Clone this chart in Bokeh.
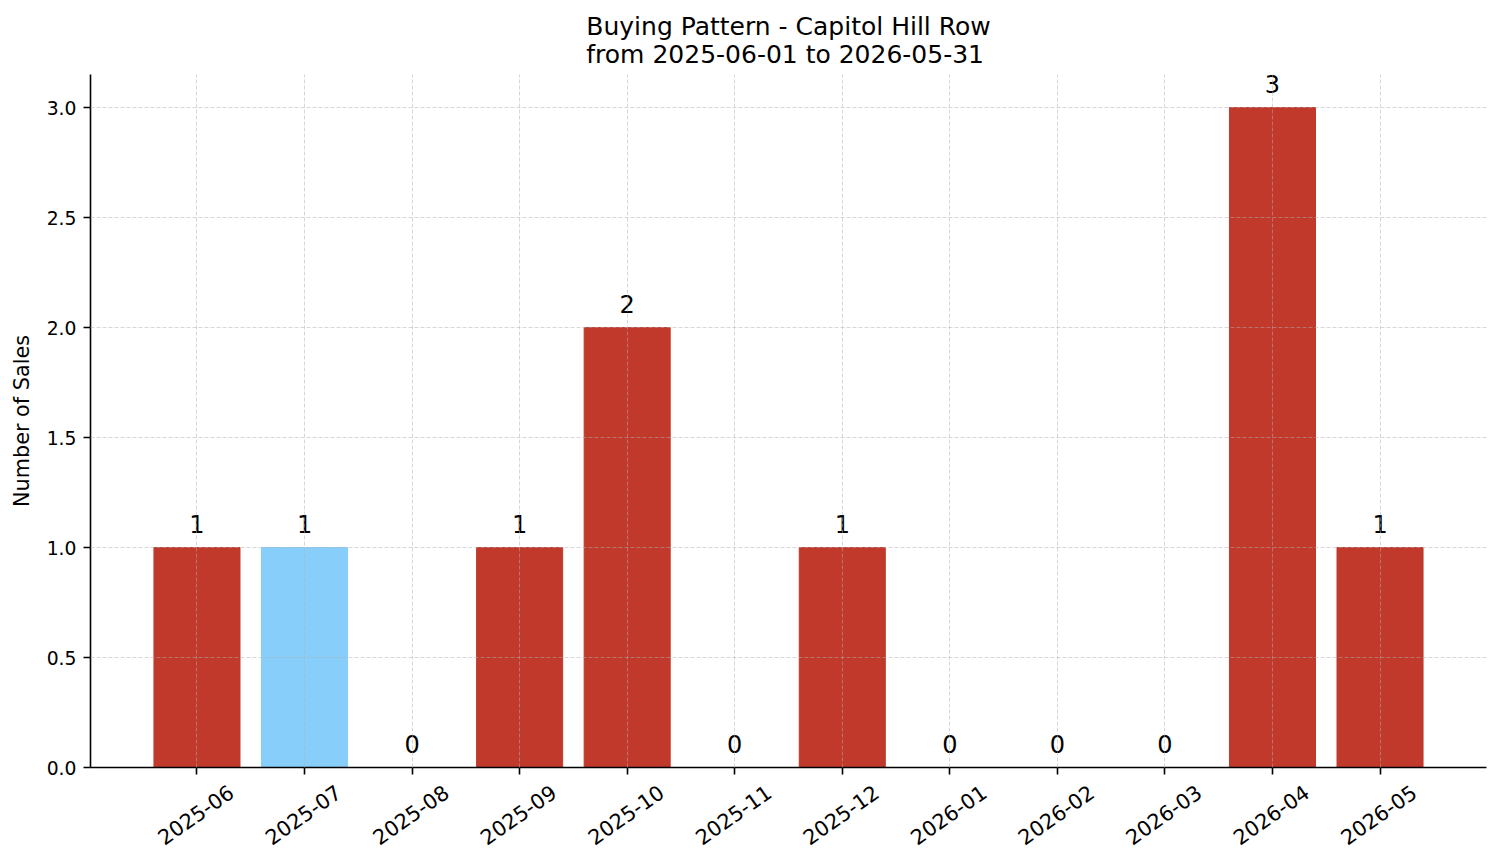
from bokeh.plotting import figure
from bokeh.models import (Range1d, FixedTicker, Title, ColumnDataSource, LinearAxis,
                          CustomLabelingPolicy)
from bokeh.embed import file_html
from bokeh.resources import INLINE
from bokeh.core.properties import value
import math

months = ["2025-06", "2025-07", "2025-08", "2025-09", "2025-10", "2025-11",
          "2025-12", "2026-01", "2026-02", "2026-03", "2026-04", "2026-05"]
sales = [1, 1, 0, 1, 2, 0, 1, 0, 0, 0, 3, 1]
colors = ["#c0392b", "#87cefa", "#c0392b", "#c0392b", "#c0392b", "#c0392b",
          "#c0392b", "#c0392b", "#c0392b", "#c0392b", "#c0392b", "#c0392b"]
yticks = [0.0, 0.5, 1.0, 1.5, 2.0, 2.5, 3.0]

FONT = "DejaVu Sans"
xs = list(range(len(months)))
X0, X1 = -0.99, 11.99
SHIFT = 0.317

p = figure(frame_width=1396, frame_height=693, output_backend="svg", toolbar_location=None,
           x_range=Range1d(X0, X1), y_range=Range1d(0, 3.15), x_axis_location=None,
           min_border_left=90, min_border_right=15, min_border_top=74, min_border_bottom=96)
p.extra_x_ranges = {"lab": Range1d(X0 - SHIFT, X1 - SHIFT)}
p.title = Title(text="Buying Pattern - Capitol Hill Row\nfrom 2025-06-01 to 2026-05-31",
                align="center", text_font=FONT, text_font_size="25px", text_font_style="normal",
                text_color="#000000", text_line_height=0.97, standoff=11)

src = ColumnDataSource(dict(x=xs, top=sales, color=colors, label=[str(s) for s in sales]))
p.vbar(x="x", top="top", width=0.8, bottom=0, color="color", source=src)
p.text(x="x", y="top", text="label", source=src, text_align="center", text_baseline="alphabetic",
       y_offset=-23.5, text_font=value(FONT), text_font_size="24px", text_color="#000000")

xa = LinearAxis(ticker=FixedTicker(ticks=xs))
xa.major_label_policy = CustomLabelingPolicy(code="return [];")
xa.major_label_standoff = 0
xa.axis_line_color = "#000000"
xa.axis_line_width = 1.6
xa.major_tick_line_color = "#000000"
xa.major_tick_line_width = 1.6
xa.major_tick_out = 7
xa.major_tick_in = 0
xa.minor_tick_line_color = None
p.add_layout(xa, "below")

xl = LinearAxis(x_range_name="lab", ticker=FixedTicker(ticks=xs))
xl.major_label_overrides = {i: m for i, m in enumerate(months)}
xl.major_label_orientation = math.radians(35)
xl.major_label_text_font = FONT
xl.major_label_text_font_size = "20.8px"
xl.major_label_text_color = "#000000"
xl.major_label_standoff = 4
xl.axis_line_color = None
xl.major_tick_line_color = None
xl.minor_tick_line_color = None
xl.major_tick_out = 0
xl.major_tick_in = 0
p.add_layout(xl, "below")

p.yaxis.ticker = FixedTicker(ticks=yticks)
p.yaxis.major_label_overrides = {t: f"{t:.1f}" for t in yticks}
p.yaxis.axis_label = "Number of Sales"
ya = p.yaxis[0]
ya.major_label_text_font = FONT
ya.major_label_text_font_size = "18.75px"
ya.major_label_text_color = "#000000"
ya.major_label_standoff = 7
ya.axis_line_color = "#000000"
ya.axis_line_width = 1.6
ya.major_tick_line_color = "#000000"
ya.major_tick_line_width = 1.6
ya.major_tick_out = 7
ya.major_tick_in = 0
ya.minor_tick_line_color = None
ya.axis_label_text_font = FONT
ya.axis_label_text_font_size = "20.8px"
ya.axis_label_text_font_style = "normal"
ya.axis_label_text_color = "#000000"
ya.axis_label_standoff = 10

for g in (p.xgrid, p.ygrid):
    g.grid_line_color = "#b0b0b0"
    g.grid_line_alpha = 0.5
    g.grid_line_dash = "4 2"
    g.grid_line_width = 1
    g.level = "overlay"
p.xgrid.ticker = FixedTicker(ticks=xs)
p.ygrid.ticker = FixedTicker(ticks=yticks)

p.outline_line_color = None

open("out.html", "w").write(file_html(p, INLINE))
